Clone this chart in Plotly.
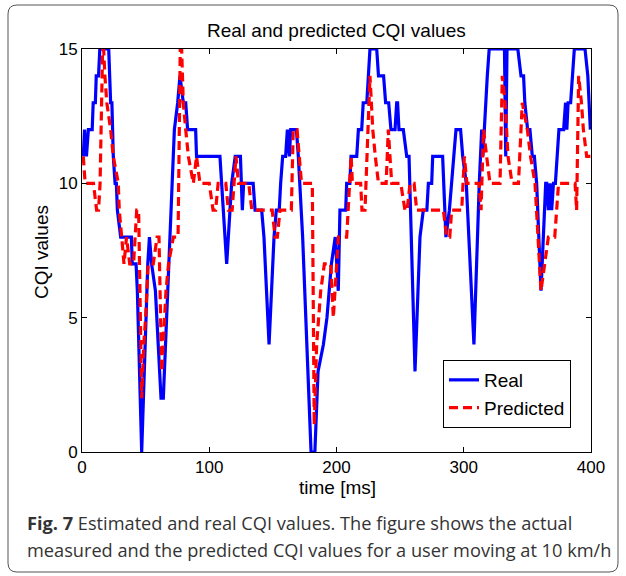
import plotly.graph_objects as go

# ---------------- data ----------------
time_real = [1, 2, 3.5, 5, 8, 8.8, 10.5, 11.2, 13, 14,
             21, 21.8, 22.5, 23.5, 24.6, 26, 27, 27.8, 30.4, 38.8,
             39.5, 42.5, 43.5, 46.9, 50.8, 51.7, 53, 54.7, 57.7, 62.1,
             63.9, 72.6, 75.2, 77, 79.6, 81.5, 83, 89.3, 90, 108.4,
             113.7, 117.6, 120.4, 124.5, 126, 127, 134.5, 136, 141.2, 143,
             147, 150.9, 152.7, 155, 156.1, 157.7, 160, 161.4, 163, 164,
             168.5, 170, 173.4, 180, 183, 185.5, 189.7, 192.5, 196, 199,
             201.4, 202.7, 207.2, 208, 210.5, 211.4, 215.9, 217.2, 219.8, 221,
             223.8, 224.8, 226.3, 231.6, 233, 237, 238.6, 241, 242.8, 246,
             247.3, 248, 249.1, 252.5, 255.2, 257, 261.7, 265.6, 268.2, 271,
             272.2, 274.8, 275.6, 283.4, 286, 288.7, 290.5, 293.9, 297.5, 299.2,
             302, 308, 312.2, 314.1, 315, 316, 317.5, 318.5, 320, 332,
             333, 334, 342.5, 345, 347, 348, 350.2, 352, 353.9, 355.5,
             357.3, 360.7, 364.4, 365.2, 366.5, 367.8, 369.1, 370.5, 372, 373.5,
             374.8, 378.5, 380, 381, 382, 384, 386.9, 395.3, 397.5, 399.5]
cqi_real = [11, 12, 11, 12, 12, 13, 13, 14, 14, 15,
            15, 14, 13, 13, 11, 10, 10, 9, 8, 8,
            7, 7, 6, 0, 6, 7, 8, 7, 6, 2,
            2, 12, 13, 14, 13, 13, 12, 12, 11, 11,
            7, 10, 11, 11, 9, 10, 10, 9, 9, 8,
            4, 8, 9, 9, 10, 11, 11, 12, 11, 12,
            12, 11, 8, 0, 0, 3, 4, 5, 7, 8,
            6, 9, 9, 10, 10, 11, 11, 12, 12, 13,
            13, 14, 15, 15, 14, 14, 13, 13, 12, 12,
            13, 13, 12, 12, 11, 11, 3, 8, 9, 9,
            10, 10, 11, 11, 8, 9, 10, 12, 12, 11,
            10, 4, 10, 12, 11, 12, 13, 14, 15, 15,
            11, 15, 15, 14, 14, 13, 12, 12, 11, 11,
            10, 6, 10, 10, 9, 10, 9, 10, 10, 11,
            12, 12, 13, 12, 13, 13, 15, 15, 14, 12]

time_pred = [1, 2.5, 9, 11.5, 13, 14.2, 16.2, 17, 18, 19.5,
             22.5, 24.6, 28.5, 29.3, 31.2, 33, 35, 37.5, 40.5, 43,
             44.5, 46.9, 48.5, 50, 52, 56, 59, 60.5, 62.6, 64.5,
             66, 68, 71.8, 75.5, 77.2, 78.3, 79.6, 81.5, 83.6, 87.5,
             90, 92.7, 100, 103, 105, 107, 113, 115, 118, 121,
             123, 131, 133.5, 149.5, 151.7, 153.5, 155.6, 164.5, 166, 169,
             170.5, 172.5, 181, 182.5, 184.4, 186, 187.6, 190.5, 195.5, 197.5,
             199, 201.5, 208, 209.3, 210.6, 211.5, 212.5, 219, 220, 222.4,
             226.3, 228.5, 230.5, 233, 239, 240.7, 242, 243.4, 250.5, 253.8,
             255.5, 257.8, 261, 263, 284, 286.6, 289, 290.5, 298.4, 300.5,
             302.5, 312, 313.6, 315.5, 318, 320.6, 328.5, 330.3, 332.5, 334.8,
             338, 343, 346, 350, 352.5, 356, 360.7, 363.5, 366.5, 371.5,
             374.5, 387.5, 388.7, 390.3, 392.5, 394, 396.6, 400]
cqi_pred = [11, 10, 10, 9, 9, 10, 15, 15, 14, 13,
            12, 11, 10, 9, 8, 7, 8, 7, 7, 9,
            9, 2, 4, 5, 7, 7, 8, 8, 3, 5,
            6, 7, 8, 8, 15, 15, 13, 12, 11, 10,
            11, 10, 10, 9, 9, 10, 10, 9, 9, 11,
            10, 10, 9, 9, 8, 8, 9, 9, 12, 12,
            11, 10, 10, 1, 4, 5, 6, 7, 7, 5,
            6, 8, 8, 9, 10, 11, 10, 10, 9, 9,
            14, 12, 11, 10, 10, 12, 11, 10, 10, 9,
            9, 10, 10, 9, 9, 8, 8, 9, 9, 11,
            10, 10, 9, 12, 11, 10, 10, 14, 13, 11,
            10, 10, 13, 12, 11, 10, 6, 7, 8, 8,
            10, 10, 9, 14, 13, 12, 11, 11]

x_ticks = [0, 100, 200, 300, 400]
y_ticks = [0, 5, 10, 15]
chart_title = "Real and predicted CQI values"
x_label = "time [ms]"
y_label = "CQI values"
caption_1 = "<b>Fig. 7</b> Estimated and real CQI values. The figure shows the actual"
caption_2 = "measured and the predicted CQI values for a user moving at 10 km/h"

# ---------------- figure ----------------
W, H = 626, 576
L, R, T, B = 82, 35, 49, 124
pw, ph = W - L - R, H - T - B


def px_to_paper_x(px):
    return (px - L) / pw


def py_to_paper_y(py):
    return (H - B - py) / ph


CHART_FONT = "Liberation Sans, Arial, sans-serif"
CAP_FONT = "Open Sans, Noto Sans, sans-serif"

fig = go.Figure()
fig.add_trace(go.Scatter(x=time_real, y=cqi_real, mode="lines", name="Real",
                         line=dict(color="#0000FF", width=3.2)))
fig.add_trace(go.Scatter(x=time_pred, y=cqi_pred, mode="lines", name="Predicted",
                         line=dict(color="#FF0000", width=3.2, dash="9px,5px")))

axis_common = dict(showline=True, linecolor="black", linewidth=1, mirror="allticks",
                   ticks="inside", ticklen=5, tickwidth=1, tickcolor="black",
                   showgrid=False, zeroline=False,
                   tickfont=dict(family=CHART_FONT, size=17, color="black"))

fig.update_xaxes(range=[0, 400], tickvals=x_ticks, ticktext=[str(v) for v in x_ticks],
                 **axis_common)
fig.update_yaxes(range=[0, 15], tickvals=y_ticks, ticktext=[str(v) for v in y_ticks],
                 **axis_common)

# rounded outer frame
x0, x1 = px_to_paper_x(8), px_to_paper_x(618)
y0, y1 = py_to_paper_y(572), py_to_paper_y(5)
rx, ry = 9 / pw, 9 / ph
path = (f"M {x0+rx},{y1} L {x1-rx},{y1} Q {x1},{y1} {x1},{y1-ry} "
        f"L {x1},{y0+ry} Q {x1},{y0} {x1-rx},{y0} L {x0+rx},{y0} "
        f"Q {x0},{y0} {x0},{y0+ry} L {x0},{y1-ry} Q {x0},{y1} {x0+rx},{y1} Z")
fig.add_shape(type="path", path=path, xref="paper", yref="paper",
              line=dict(color="#555555", width=1), layer="below")

annotations = [
    dict(text=chart_title, x=px_to_paper_x(336), y=py_to_paper_y(30),
         xanchor="center", yanchor="middle",
         font=dict(family=CHART_FONT, size=19, color="black")),
    dict(text=x_label, x=px_to_paper_x(337), y=py_to_paper_y(487),
         xanchor="center", yanchor="middle",
         font=dict(family=CHART_FONT, size=19, color="black")),
    dict(text=y_label, x=px_to_paper_x(41), y=py_to_paper_y(252), textangle=-90,
         xanchor="center", yanchor="middle",
         font=dict(family=CHART_FONT, size=19, color="black")),
    dict(text=caption_1, x=px_to_paper_x(25), y=py_to_paper_y(523),
         xanchor="left", yanchor="middle", align="left",
         font=dict(family=CAP_FONT, size=18.2, color="#333333")),
    dict(text=caption_2, x=px_to_paper_x(25), y=py_to_paper_y(550),
         xanchor="left", yanchor="middle", align="left",
         font=dict(family=CAP_FONT, size=18.2, color="#333333")),
]
for a in annotations:
    a.update(xref="paper", yref="paper", showarrow=False)

fig.update_layout(
    width=W, height=H,
    margin=dict(l=L, r=R, t=T, b=B, pad=0),
    paper_bgcolor="white", plot_bgcolor="white",
    annotations=annotations,
    showlegend=True,
    legend=dict(x=px_to_paper_x(571), y=py_to_paper_y(428), xanchor="right", yanchor="bottom",
                bordercolor="black", borderwidth=1, bgcolor="white",
                font=dict(family=CHART_FONT, size=19, color="black"),
                tracegroupgap=0),
)

fig.write_html("out.html", config={"displayModeBar": False})
